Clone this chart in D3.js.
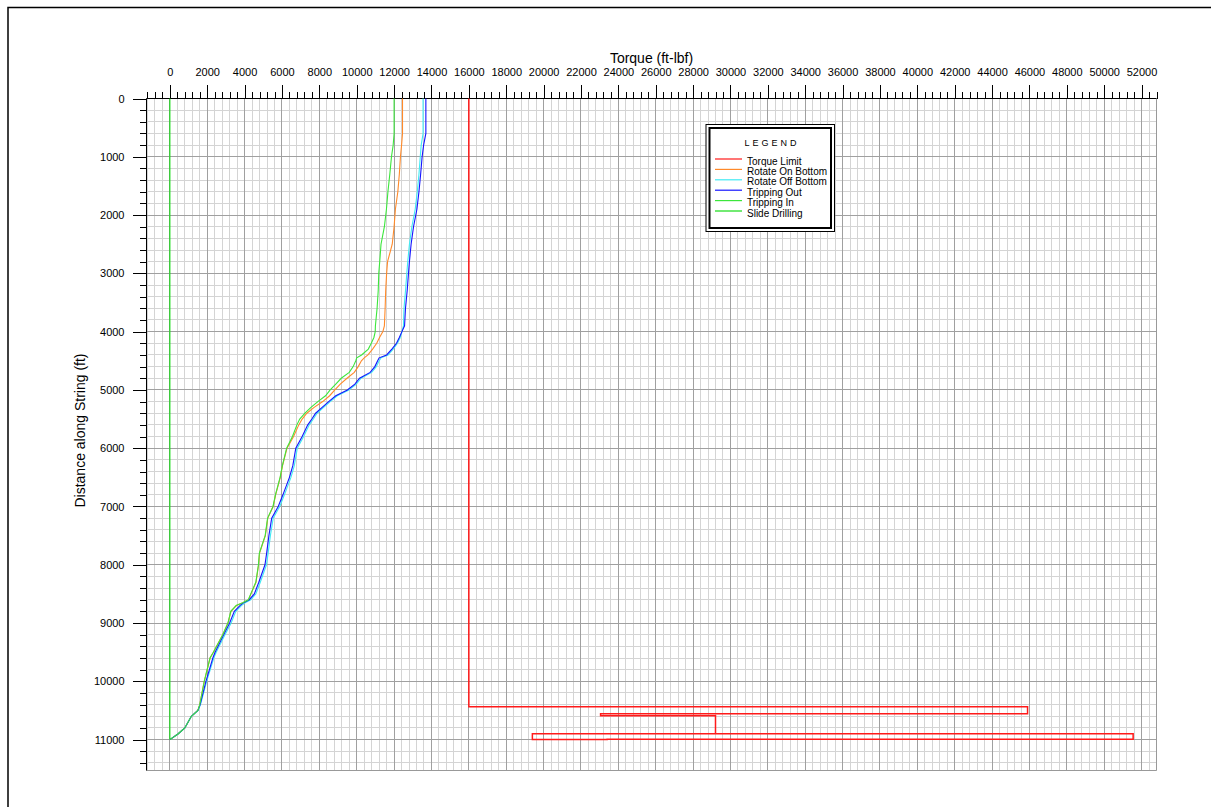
<!DOCTYPE html>
<html>
<head>
<meta charset="utf-8">
<script src="https://cdn.jsdelivr.net/npm/d3@7"></script>
<style>
  html, body { margin: 0; padding: 0; background: #fff; }
  svg { display: block; font-family: Arial, "Liberation Sans", sans-serif; }
</style>
</head>
<body>
<svg id="chart" width="1211" height="807"></svg>
<script>
// Depth along the string (ft), shared by the four rotating-torque series
const depth = [0, 600, 800, 1000, 1300, 1600, 1900, 2200, 2500, 2800, 3000, 3300, 3600, 3900,
  4000, 4100, 4200, 4300, 4400, 4450, 4500, 4600, 4700, 4800, 4900, 5000, 5100, 5200, 5300,
  5400, 5500, 5600, 5800, 6000, 6300, 6500, 6800, 7000, 7200, 7500, 7800, 8000, 8300, 8500,
  8600, 8650, 8700, 8800, 9000, 9200, 9500, 9600, 10000, 10400, 10500, 10600, 10800, 10900, 11000];

// Torque (ft-lbf) at each depth
const rotateOnBottom = [12450, 12450, 12400, 12340, 12280, 12200, 12070, 12000, 11900, 11650, 11600, 11550, 11520, 11480,
  11400, 11220, 11070, 10850, 10600, 10400, 10250, 10080, 9870, 9480, 9120, 8830, 8550, 8180, 7720,
  7330, 7080, 6900, 6620, 6270, 6030, 5910, 5660, 5530, 5240, 5110, 4800, 4750, 4610, 4340,
  4210, 3910, 3560, 3270, 3110, 2830, 2330, 2150, 1840, 1600, 1500, 1150, 800, 450, 0];

const rotateOffBottom = [13550, 13550, 13450, 13400, 13330, 13240, 13130, 12950, 12820, 12730, 12680, 12610, 12530, 12500,
  12420, 12330, 12180, 11950, 11680, 11300, 11200, 11050, 10800, 10230, 9980, 9580, 8960, 8580, 8230,
  7880, 7680, 7460, 7160, 6820, 6660, 6480, 6130, 5880, 5530, 5380, 5260, 5170, 4840, 4600,
  4330, 4030, 3830, 3530, 3280, 2950, 2480, 2350, 1970, 1640, 1510, 1150, 800, 450, 0];

const trippingOut = [13700, 13700, 13580, 13500, 13420, 13330, 13220, 13040, 12910, 12820, 12770, 12700, 12610, 12560,
  12420, 12280, 12130, 11880, 11600, 11200, 11120, 10970, 10720, 10150, 9900, 9500, 8880, 8500, 8150,
  7800, 7600, 7380, 7080, 6740, 6580, 6400, 6050, 5800, 5450, 5300, 5180, 5090, 4760, 4520,
  4250, 3950, 3750, 3450, 3200, 2880, 2420, 2300, 1930, 1620, 1500, 1150, 800, 450, 0];

const trippingIn = [12000, 12000, 11950, 11860, 11770, 11670, 11590, 11480, 11300, 11230, 11180, 11150, 11090, 11000,
  10990, 10920, 10780, 10620, 10260, 10000, 9950, 9810, 9600, 9170, 8880, 8580, 8330, 7920, 7550,
  7230, 6950, 6800, 6560, 6250, 6020, 5900, 5650, 5520, 5230, 5100, 4790, 4740, 4600, 4330,
  4200, 3900, 3550, 3260, 3110, 2830, 2330, 2150, 1840, 1600, 1500, 1150, 800, 450, 0];

// Sliding: no rotation along the whole string
const slideDepth = [0, 11000];
const slideDrilling = [0, 0];

// Component make-up torque limits, traced as a stepped outline
const limitTorque = [16000, 16000, 45900, 45900, 23050, 23050, 29200, 29200, 51550, 51550, 23400, 23400, 19400, 19400, 29200];
const limitDepth  = [0, 10435, 10435, 10555, 10555, 10590, 10590, 10900, 10900, 10993, 10993, 11000, 11000, 10900, 10900];

const seriesNames  = ["Torque Limit", "Rotate On Bottom", "Rotate Off Bottom", "Tripping Out", "Tripping In", "Slide Drilling"];
const seriesColors = ["#ff1a1a", "#ff8a2a", "#40eaf4", "#1414ff", "#3ce63c", "#14dc14"];

// Axis ticks
const xMajorTicks = d3.range(0, 52001, 2000);
const xMinorTicks = d3.range(-1200, 52801, 400);
const yMajorTicks = d3.range(0, 11001, 1000);
const yMinorTicks = d3.range(0, 11401, 200);

const svg = d3.select("#chart");

// Page frame
svg.append("rect")
  .attr("x", 8).attr("y", 7.5).attr("width", 1300).attr("height", 900)
  .attr("fill", "none").attr("stroke", "#000").attr("stroke-width", 1.5);

const plot = { left: 146.5, right: 1156.5, top: 98.5, bottom: 770.5 };

const x = d3.scaleLinear().domain([-1250, 52800]).range([plot.left, plot.right]);
const y = d3.scaleLinear().domain([0, 11530]).range([plot.top, plot.bottom]);

const crisp = v => Math.round(v - 0.5) + 0.5;

// Grid
const grid = svg.append("g");
grid.selectAll("line.vmin").data(xMinorTicks.filter(v => v % 2000 !== 0)).join("line")
  .attr("x1", d => crisp(x(d))).attr("x2", d => crisp(x(d)))
  .attr("y1", plot.top).attr("y2", plot.bottom)
  .attr("stroke", "#d4d4d4").attr("stroke-width", 1);
grid.selectAll("line.hmin").data(yMinorTicks.filter(v => v % 1000 !== 0)).join("line")
  .attr("y1", d => crisp(y(d))).attr("y2", d => crisp(y(d)))
  .attr("x1", plot.left).attr("x2", plot.right)
  .attr("stroke", "#d4d4d4").attr("stroke-width", 1);
const gridMaj = svg.append("g");
gridMaj.selectAll("line").data(xMajorTicks).join("line")
  .attr("x1", d => crisp(x(d))).attr("x2", d => crisp(x(d)))
  .attr("y1", plot.top).attr("y2", plot.bottom)
  .attr("stroke", "#a0a0a0").attr("stroke-width", 1);
gridMaj.selectAll("line.h").data(yMajorTicks).join("line").attr("class", "h")
  .attr("y1", d => crisp(y(d))).attr("y2", d => crisp(y(d)))
  .attr("x1", plot.left).attr("x2", plot.right)
  .attr("stroke", "#a0a0a0").attr("stroke-width", 1);
// Right and bottom edges
svg.append("path")
  .attr("d", `M${plot.right},${plot.top}V${plot.bottom}H${plot.left}`)
  .attr("fill", "none").attr("stroke", "#999").attr("stroke-width", 1);

// Top axis (torque)
const xMinorAxis = d3.axisTop(x).tickValues(xMinorTicks).tickSize(7).tickFormat("");
const xMajorAxis = d3.axisTop(x).tickValues(xMajorTicks).tickSize(14).tickPadding(9)
  .tickFormat(d3.format("d"));
svg.append("g").attr("transform", `translate(0,${plot.top})`).call(xMinorAxis);
const gx = svg.append("g").attr("transform", `translate(0,${plot.top})`).call(xMajorAxis);
svg.selectAll(".domain").remove();
gx.selectAll("text").attr("font-size", 11).attr("font-family", "Arial, 'Liberation Sans', sans-serif").attr("fill", "#000");

// Left axis (depth)
const yMinorAxis = d3.axisLeft(y).tickValues(yMinorTicks).tickSize(7).tickFormat("");
const yMajorAxis = d3.axisLeft(y).tickValues(yMajorTicks).tickSize(14).tickPadding(8)
  .tickFormat(d3.format("d"));
svg.append("g").attr("transform", `translate(${plot.left},0)`).call(yMinorAxis).select(".domain").remove();
const gy = svg.append("g").attr("transform", `translate(${plot.left},0)`).call(yMajorAxis);
gy.select(".domain").remove();
gy.selectAll("text").attr("font-size", 11).attr("font-family", "Arial, 'Liberation Sans', sans-serif").attr("fill", "#000");
svg.selectAll(".tick line").attr("stroke", "#000").attr("shape-rendering", "crispEdges");

// Axis lines
svg.append("line").attr("x1", plot.left).attr("x2", plot.right).attr("y1", plot.top).attr("y2", plot.top)
  .attr("stroke", "#000");
svg.append("line").attr("x1", plot.left).attr("x2", plot.left).attr("y1", plot.top).attr("y2", plot.bottom)
  .attr("stroke", "#000");

// Axis titles
svg.append("text").attr("x", (plot.left + plot.right) / 2).attr("y", 63)
  .attr("text-anchor", "middle").attr("font-size", 14).text("Torque (ft-lbf)");
svg.append("text").attr("transform", `translate(85,${(plot.top + plot.bottom) / 2 - 4}) rotate(-90)`)
  .attr("text-anchor", "middle").attr("font-size", 14).text("Distance along String (ft)");

// Curves
const line = d3.line().x(d => x(d[0])).y(d => y(d[1]));
const zip = (t, dpt) => t.map((v, i) => [v, dpt[i]]);
const curves = [
  zip(limitTorque, limitDepth),
  zip(rotateOnBottom, depth),
  zip(rotateOffBottom, depth),
  zip(trippingOut, depth),
  zip(trippingIn, depth),
  zip(slideDrilling, slideDepth)
];
svg.append("g").selectAll("path").data(curves).join("path")
  .attr("d", line)
  .attr("fill", "none")
  .attr("stroke", (d, i) => seriesColors[i])
  .attr("stroke-width", (d, i) => i === 0 ? 1.5 : 1.1)
  .attr("stroke-linejoin", "miter");

// Legend
const lg = svg.append("g");
lg.append("rect").attr("x", 706).attr("y", 124.5).attr("width", 128.5).attr("height", 107)
  .attr("fill", "#fff").attr("stroke", "#000").attr("stroke-width", 1);
lg.append("rect").attr("x", 709.5).attr("y", 128).attr("width", 121.5).attr("height", 100)
  .attr("fill", "#fff").attr("stroke", "#000").attr("stroke-width", 2);
lg.append("text").attr("x", 772).attr("y", 146).attr("text-anchor", "middle")
  .attr("font-size", 9).attr("letter-spacing", 3).text("LEGEND");
const items = lg.selectAll("g.item").data(seriesNames).join("g").attr("class", "item")
  .attr("transform", (d, i) => `translate(0,${159 + i * 10.4})`);
items.append("line").attr("x1", 715).attr("x2", 742).attr("y1", 0).attr("y2", 0)
  .attr("stroke", (d, i) => seriesColors[i]).attr("stroke-width", 1.2);
items.append("text").attr("x", 747).attr("y", 5.5).attr("font-size", 10).text(d => d);
</script>
</body>
</html>
